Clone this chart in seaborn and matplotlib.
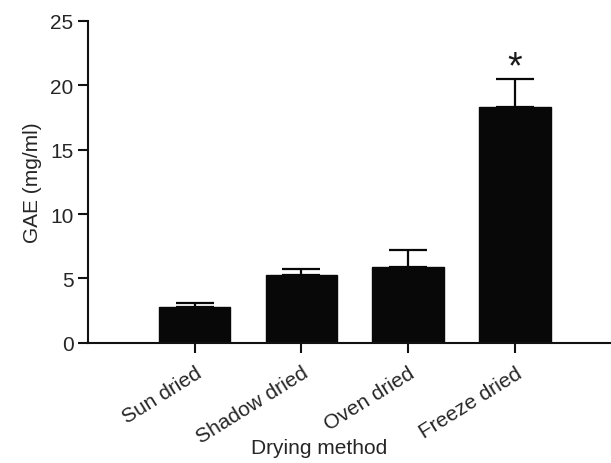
import matplotlib
matplotlib.use("Agg")
import matplotlib.pyplot as plt
import seaborn as sns
import numpy as np

methods = ["Sun dried", "Shadow dried", "Oven dried", "Freeze dried"]
gae_mean = [2.8, 5.3, 5.9, 18.3]
gae_err = [0.3, 0.45, 1.3, 2.2]
significant = [False, False, False, True]

sns.set_style("ticks")
plt.rcParams["font.family"] = ["Liberation Sans", "DejaVu Sans"]

fig = plt.figure(figsize=(6.11, 4.64), dpi=100)
ax = fig.add_axes([0.144, 0.259, 0.856, 0.694])

sns.barplot(x=methods, y=gae_mean, color="#080808", width=0.67,
            saturation=1, errorbar=None, ax=ax, edgecolor="#080808")

xs = np.arange(len(methods))
ax.errorbar(xs, gae_mean, yerr=[np.zeros(len(gae_err)), gae_err], fmt="none",
            ecolor="#080808", elinewidth=1.6, capsize=14, capthick=1.6)

# significance mark above the bar
for x, m, e, s in zip(xs, gae_mean, gae_err, significant):
    if s:
        ax.text(x, m + e + 0.1, "*", ha="center", va="baseline", fontsize=27,
                color="#1a1a1a")

ax.set_ylim(0, 25)
ax.set_yticks([0, 5, 10, 15, 20, 25])
ax.set_xlim(-1.0, 3.9)
ax.set_ylabel("GAE (mg/ml)", fontsize=15, labelpad=6)
ax.set_xlabel("Drying method", fontsize=15)
ax.xaxis.set_label_coords(0.442, -0.295)
ax.tick_params(axis="both", labelsize=15, width=1.5, length=7.5, color="#111111")
ax.tick_params(axis="y", pad=3)
ax.tick_params(axis="x", pad=7)
plt.setp(ax.get_xticklabels(), rotation=32, ha="right", rotation_mode="anchor")
for side in ["top", "right"]:
    ax.spines[side].set_visible(False)
for side in ["left", "bottom"]:
    ax.spines[side].set_linewidth(1.5)
    ax.spines[side].set_color("#111111")

fig.savefig("out.png", dpi=100)
